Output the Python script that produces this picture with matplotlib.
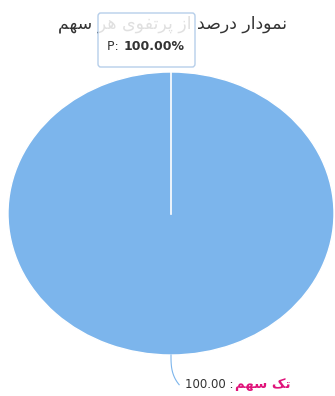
import numpy as np
import matplotlib.pyplot as plt
from matplotlib.patches import FancyBboxPatch

title = "نمودار درصد از پرتفوی هر سهم"
names = ["تک سهم"]
values = [100.0]
colors = ["#7cb5ec"]

# arabic presentation forms: isolated, final, initial, medial
FORMS = {
    "ا": (0xFE8D, 0xFE8E), "د": (0xFEA9, 0xFEAA), "ذ": (0xFEAB, 0xFEAC),
    "ر": (0xFEAD, 0xFEAE), "ز": (0xFEAF, 0xFEB0), "و": (0xFEED, 0xFEEE),
    "ب": (0xFE8F, 0xFE90, 0xFE91, 0xFE92), "پ": (0xFB56, 0xFB57, 0xFB58, 0xFB59),
    "ت": (0xFE95, 0xFE96, 0xFE97, 0xFE98), "س": (0xFEB1, 0xFEB2, 0xFEB3, 0xFEB4),
    "ص": (0xFEB9, 0xFEBA, 0xFEBB, 0xFEBC), "ف": (0xFED1, 0xFED2, 0xFED3, 0xFED4),
    "ک": (0xFB8E, 0xFB8F, 0xFB90, 0xFB91), "م": (0xFEE1, 0xFEE2, 0xFEE3, 0xFEE4),
    "ن": (0xFEE5, 0xFEE6, 0xFEE7, 0xFEE8), "ه": (0xFEE9, 0xFEEA, 0xFEEB, 0xFEEC),
    "ی": (0xFBFC, 0xFBFD, 0xFBFE, 0xFBFF),
}


def shape(s):
    out = []
    for i, c in enumerate(s):
        if c not in FORMS:
            out.append(c)
            continue
        f = FORMS[c]
        prev = s[i - 1] if i > 0 else ""
        nxt = s[i + 1] if i + 1 < len(s) else ""
        jp = prev in FORMS and len(FORMS[prev]) == 4
        jn = len(f) == 4 and nxt in FORMS
        idx = (1 if jp else 0) + (2 if jn else 0)
        out.append(chr(f[idx]))
    return "".join(out)[::-1]


fig = plt.figure(figsize=(3.35, 3.96), dpi=100)
ax = fig.add_axes([8 / 335, 41 / 396, 326 / 335, 283 / 396])

wedges, _ = ax.pie(values, colors=colors, startangle=90, counterclock=False,
                   wedgeprops=dict(edgecolor="white", linewidth=1))
ax.set_aspect("auto")
ax.set_xlim(-1, 1)
ax.set_ylim(-1, 1)

for w, name, v in zip(wedges, names, values):
    # slice border (full circle wedge has no radial edge)
    a = np.deg2rad(w.theta1)
    ax.plot([0, np.cos(a)], [0, np.sin(a)], color="white", lw=1.2)
    mid = np.deg2rad((w.theta1 + w.theta2) / 2)
    x0, y0 = np.cos(mid), np.sin(mid)
    t = np.linspace(0, 1, 20)
    xs = x0 + 0.05 * t ** 3
    ys = y0 - 0.21 * t
    ax.plot(xs, ys, color="#7cb5ec", lw=0.8, clip_on=False)
    lab = ax.annotate(f"{v:.2f} :", (xs[-1], ys[-1]), xytext=(4, 0),
                      textcoords="offset points", ha="left", va="center",
                      fontsize=8.5, color="#333333", annotation_clip=False)
    ax.annotate(shape(name), (1, 0.5), xycoords=lab, xytext=(1, 0),
                textcoords="offset points", ha="left", va="center",
                fontsize=9.5, fontweight="bold", color="#e0137a")

fig.text(0.515, 0.94, shape(title), ha="center", va="center", fontsize=12.5,
         color="#333333")

# tooltip
box = FancyBboxPatch((98 / 335, 1 - 67 / 396), 97 / 335, 54 / 396,
                     boxstyle="round,pad=0,rounding_size=0.008",
                     transform=fig.transFigure, facecolor="white", alpha=0.85,
                     edgecolor="#a9c6e6", lw=1.0, zorder=5)
fig.patches.append(box)
fig.text(107 / 335, 1 - 47 / 396, "P: ", ha="left", va="center", fontsize=9,
         color="#333333", zorder=6)
fig.text(124 / 335, 1 - 47 / 396, "100.00%", ha="left", va="center", fontsize=9,
         fontweight="bold", color="#333333", zorder=6)

fig.savefig("out.png", dpi=100)
